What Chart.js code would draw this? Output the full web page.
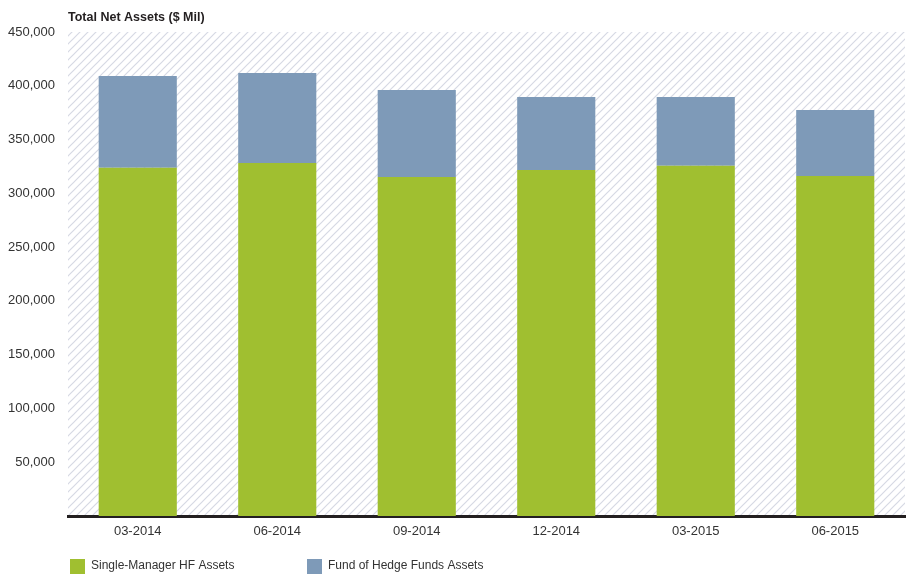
<!DOCTYPE html>
<html>
<head>
<meta charset="utf-8">
<script src="https://cdn.jsdelivr.net/npm/chart.js@4/dist/chart.umd.min.js"></script>
<style>
  html, body { margin: 0; padding: 0; background: #fff; }
  #wrap { width: 913px; height: 574px; position: relative; }
</style>
</head>
<body>
<div id="wrap"><canvas id="assetsChart"></canvas></div>
<script>
var FONT = '"Liberation Sans", Arial, sans-serif';

var quarters = ['03-2014', '06-2014', '09-2014', '12-2014', '03-2015', '06-2015'];
var singleManager = [323800, 328200, 315200, 321700, 325700, 316100];
var fundOfFunds = [85300, 83700, 80900, 67900, 63900, 61400];
var yTicks = [0, 50000, 100000, 150000, 200000, 250000, 300000, 350000, 400000, 450000];

// diagonal hatch behind the bars
function makeHatch(ctx) {
  var c = document.createElement('canvas');
  c.width = 8; c.height = 8;
  var p = c.getContext('2d');
  p.strokeStyle = '#d6d9e4';
  p.lineWidth = 1.2;
  p.beginPath();
  p.moveTo(-1, 9); p.lineTo(9, -1);
  p.moveTo(-1, 1); p.lineTo(1, -1);
  p.moveTo(7, 9); p.lineTo(9, 7);
  p.stroke();
  return ctx.createPattern(c, 'repeat');
}

var hatchBg = {
  id: 'hatchBg',
  beforeDraw: function (chart) {
    var a = chart.chartArea, ctx = chart.ctx;
    ctx.save();
    ctx.fillStyle = makeHatch(ctx);
    ctx.fillRect(a.left, a.top, a.right - a.left, a.bottom - a.top);
    ctx.restore();
  }
};

// title above the plot and legend along the bottom
var extras = {
  id: 'extras',
  afterDraw: function (chart) {
    var ctx = chart.ctx, a = chart.chartArea;
    ctx.save();
    ctx.font = 'bold 12.5px ' + FONT;
    ctx.fillStyle = '#231f20';
    ctx.textBaseline = 'middle';
    ctx.textAlign = 'left';
    ctx.fillText('Total Net Assets ($ Mil)', a.left, 18);

    var x = [70, 307];
    chart.data.datasets.forEach(function (ds, i) {
      ctx.fillStyle = ds.backgroundColor;
      ctx.fillRect(x[i], 559, 15, 15);
      ctx.fillStyle = '#333';
      ctx.font = '12px ' + FONT;
      ctx.fillText(ds.label, x[i] + 21, 566);
    });
    ctx.restore();
  }
};

new Chart(document.getElementById('assetsChart'), {
  type: 'bar',
  data: {
    labels: quarters,
    datasets: [
      { label: 'Single-Manager HF Assets', data: singleManager, backgroundColor: '#a0bf30' },
      { label: 'Fund of Hedge Funds Assets', data: fundOfFunds, backgroundColor: '#7e9ab8' }
    ]
  },
  plugins: [hatchBg, extras],
  options: {
    responsive: true,
    maintainAspectRatio: false,
    animation: false,
    barPercentage: 0.56,
    categoryPercentage: 1,
    layout: { padding: { top: 32, right: 8, left: 0, bottom: 0 } },
    plugins: {
      legend: { display: false },
      tooltip: { enabled: false },
      title: { display: false }
    },
    scales: {
      x: {
        stacked: true,
        grid: { display: false },
        border: { display: true, color: '#231f20', width: 3 },
        ticks: { color: '#333', font: { family: FONT, size: 13 }, padding: 0 },
        afterFit: function (s) { s.height = 58; }
      },
      y: {
        stacked: true,
        min: 0,
        max: 450000,
        grid: { display: false },
        border: { display: false },
        afterBuildTicks: function (s) { s.ticks = yTicks.map(function (v) { return { value: v }; }); },
        ticks: {
          color: '#333',
          font: { family: FONT, size: 13 },
          padding: 5,
          callback: function (v) { return v === 0 ? '' : v.toLocaleString('en-US'); }
        },
        afterFit: function (s) { s.width = 68; }
      }
    }
  }
});
</script>
</body>
</html>
